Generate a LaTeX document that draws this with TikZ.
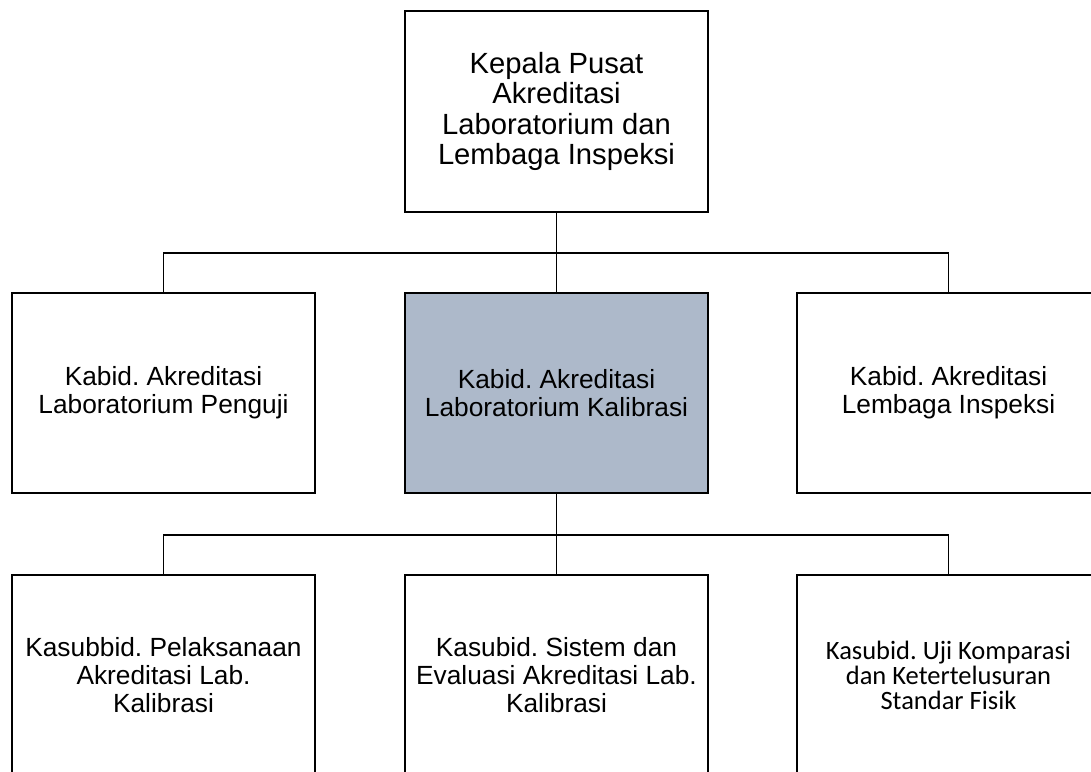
\documentclass[tikz,border=0pt]{standalone}
\usepackage{fontspec}
\setmainfont{Liberation Sans}
\newfontfamily\calibrifont{Carlito}
\frenchspacing
\definecolor{kalibrasi}{HTML}{ADB9CA}
\tikzset{
	jabatan/.style={draw=black, line width=2.2pt, minimum width=303pt, minimum height=200pt, inner sep=0pt, align=center, font=\fontsize{26.3}{27.7}\selectfont},
	garis/.style={line width=1.8pt}
}

\begin{document}
\begin{tikzpicture}[x=1pt,y=-1pt]
		\clip (0,0) rectangle (1091,771);
		\node[jabatan, minimum height=201pt, font=\fontsize{29.2}{30.3}\selectfont] (kepala) at (556.5,111.5) {Kepala Pusat\\Akreditasi\\Laboratorium dan\\Lembaga Inspeksi};
		
		\node[jabatan] (penguji) at (163.5,393) {Kabid. Akreditasi\\Laboratorium Penguji};
		\node[jabatan, fill=kalibrasi] (kalibrasi) at (556.5,393) {Kabid. Akreditasi\\Laboratorium Kalibrasi};
		\node[jabatan] (inspeksi) at (948.5,393) {Kabid. Akreditasi\\Lembaga Inspeksi};
		
		\node[jabatan] (pelaksanaan) at (163.5,675) {Kasubbid. Pelaksanaan\\Akreditasi Lab.\\Kalibrasi};
		\node[jabatan] (evaluasi) at (556.5,675) {Kasubid. Sistem dan\\Evaluasi Akreditasi Lab.\\Kalibrasi};
		\node[jabatan, font=\calibrifont\fontsize{26.5}{25}\selectfont] (komparasi) at (948.5,675) {Kasubid. Uji Komparasi\\dan Ketertelusuran\\Standar Fisik};
		
		\coordinate (bus1) at (556.5,253);
		\coordinate (bus2) at (556.5,535);
		
		\draw[garis] (kepala.south) -- (bus1) -- (kalibrasi.north);
		\draw[garis] (penguji.north) |- (bus1) -| (inspeksi.north);
		\draw[garis] (kalibrasi.south) -- (bus2) -- (evaluasi.north);
		\draw[garis] (pelaksanaan.north) |- (bus2) -| (komparasi.north);
\end{tikzpicture}
\end{document}
